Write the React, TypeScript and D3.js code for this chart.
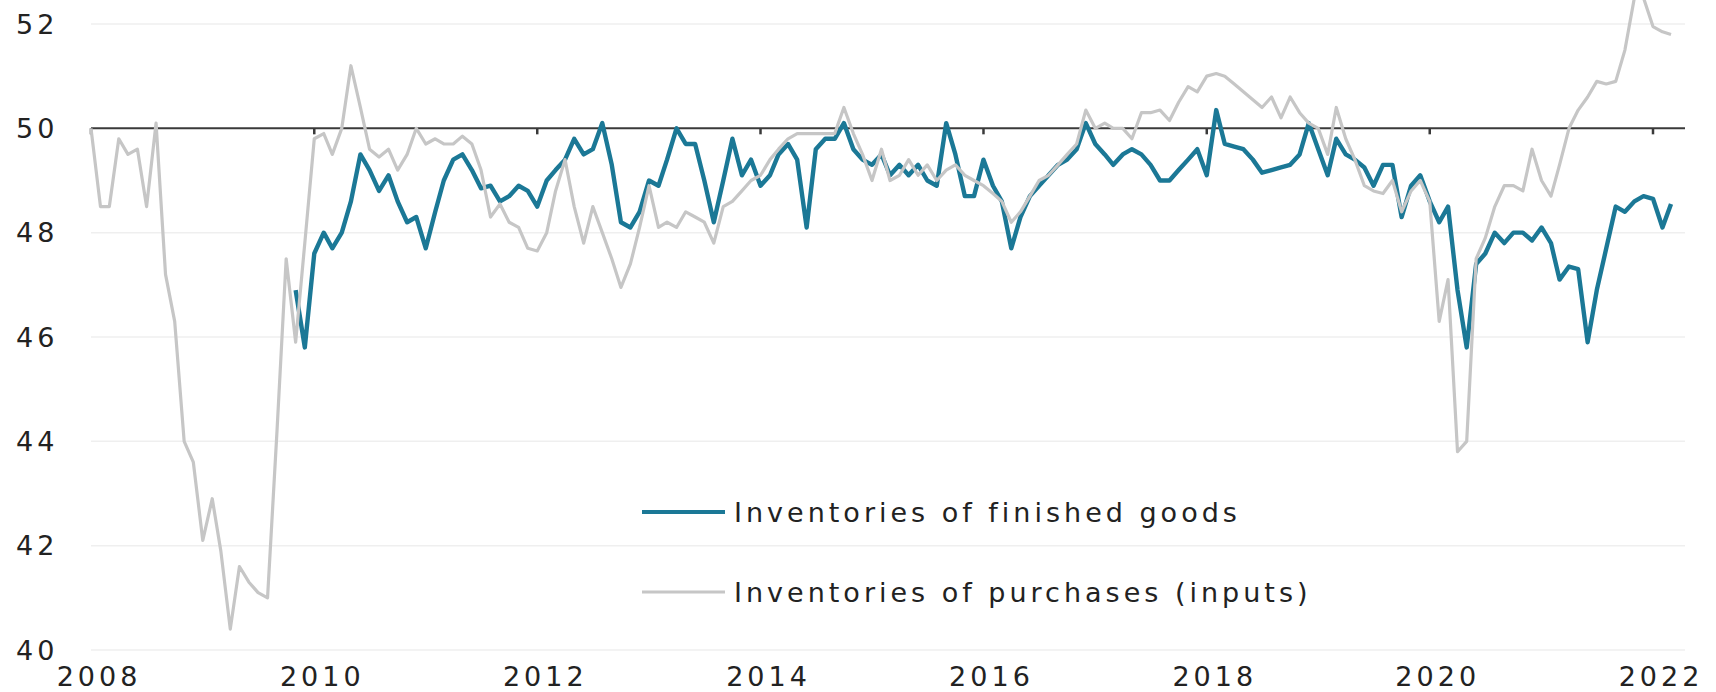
import React from "react";
import * as d3 from "d3";

// Monthly, Jan 2008 .. Mar 2022
const purchasesStart = new Date(2008, 0, 1);
const purchases: number[] = [
  50.0, 48.5, 48.5, 49.8, 49.5, 49.6, 48.5, 50.1, 47.2, 46.3, 44.0, 43.6,
  42.1, 42.9, 41.9, 40.4, 41.6, 41.3, 41.1, 41.0, 44.2, 47.5, 45.9, 47.8,
  49.8, 49.9, 49.5, 50.0, 51.2, 50.4, 49.6, 49.45, 49.6, 49.2, 49.5, 50.0,
  49.7, 49.8, 49.7, 49.7, 49.85, 49.7, 49.2, 48.3, 48.55, 48.2, 48.1, 47.7,
  47.65, 48.0, 48.8, 49.4, 48.5, 47.8, 48.5, 48.0, 47.5, 46.95, 47.4, 48.1,
  48.9, 48.1, 48.2, 48.1, 48.4, 48.3, 48.2, 47.8, 48.5, 48.6, 48.8, 49.0,
  49.1, 49.4, 49.6, 49.8, 49.9, 49.9, 49.9, 49.9, 49.9, 50.4, 49.9, 49.5,
  49.0, 49.6, 49.0, 49.1, 49.4, 49.1, 49.3, 49.0, 49.2, 49.3, 49.1, 49.0,
  48.9, 48.75, 48.6, 48.2, 48.4, 48.7, 49.0, 49.1, 49.3, 49.5, 49.7, 50.35,
  50.0, 50.1, 50.0, 50.0, 49.8, 50.3, 50.3, 50.35, 50.15, 50.5, 50.8, 50.7,
  51.0, 51.05, 51.0, 50.85, 50.7, 50.55, 50.4, 50.6, 50.2, 50.6, 50.3, 50.1,
  50.0, 49.5, 50.4, 49.8, 49.4, 48.9, 48.8, 48.75, 49.0, 48.4, 48.8, 49.0,
  48.6, 46.3, 47.1, 43.8, 44.0, 47.5, 47.9, 48.5, 48.9, 48.9, 48.8, 49.6,
  49.0, 48.7, 49.3, 50.0, 50.35, 50.6, 50.9, 50.85, 50.9, 51.5, 52.5, 52.5,
  51.95, 51.85, 51.8,
];

// Monthly, Nov 2009 .. Mar 2022
const finishedStart = new Date(2009, 10, 1);
const finished: number[] = [
  46.9, 45.8,
  47.6, 48.0, 47.7, 48.0, 48.6, 49.5, 49.2, 48.8, 49.1, 48.6, 48.2, 48.3,
  47.7, 48.4, 49.0, 49.4, 49.5, 49.2, 48.85, 48.9, 48.6, 48.7, 48.9, 48.8,
  48.5, 49.0, 49.2, 49.4, 49.8, 49.5, 49.6, 50.1, 49.3, 48.2, 48.1, 48.4,
  49.0, 48.9, 49.4, 50.0, 49.7, 49.7, 49.0, 48.2, 49.0, 49.8, 49.1, 49.4,
  48.9, 49.1, 49.5, 49.7, 49.4, 48.1, 49.6, 49.8, 49.8, 50.1, 49.6, 49.4,
  49.3, 49.5, 49.1, 49.3, 49.1, 49.3, 49.0, 48.9, 50.1, 49.5, 48.7, 48.7,
  49.4, 48.9, 48.6, 47.7, 48.3, 48.7, 48.9, 49.1, 49.3, 49.4, 49.6, 50.1,
  49.7, 49.5, 49.3, 49.5, 49.6, 49.5, 49.3, 49.0, 49.0, 49.2, 49.4, 49.6,
  49.1, 50.35, 49.7, 49.65, 49.6, 49.4, 49.15, 49.2, 49.25, 49.3, 49.5, 50.1,
  49.6, 49.1, 49.8, 49.5, 49.4, 49.25, 48.9, 49.3, 49.3, 48.3, 48.9, 49.1,
  48.6, 48.2, 48.5, 46.9, 45.8, 47.4, 47.6, 48.0, 47.8, 48.0, 48.0, 47.85,
  48.1, 47.8, 47.1, 47.35, 47.3, 45.9, 46.9, 47.7, 48.5, 48.4, 48.6, 48.7,
  48.65, 48.1, 48.55,
];

const yTicks = [40, 42, 44, 46, 48, 50, 52];
const xTickYears = [2008, 2010, 2012, 2014, 2016, 2018, 2020, 2022];
const seriesNames = ["Inventories of finished goods", "Inventories of purchases (inputs)"];

const W = 1716;
const H = 692;
const TEAL = "#1b7896";
const GREY = "#c6c6c6";
const FONT = "'DejaVu Sans', Arial, sans-serif";
const FS = 27;
const LS = 4;

function toPoints(start: Date, vals: number[]) {
  return vals.map((v, i) => ({ date: d3.timeMonth.offset(start, i), v }));
}

export default function App() {
  const x = d3
    .scaleTime()
    .domain([new Date(2008, 0, 1), new Date(2022, 0, 1)])
    .range([91, 1653]);
  const plotRight = 1685;
  const y = d3.scaleLinear().domain([40, 52]).range([650, 24]);

  const line = d3
    .line<{ date: Date; v: number }>()
    .x((d) => x(d.date))
    .y((d) => y(d.v))
    .curve(d3.curveLinear);

  const pPts = toPoints(purchasesStart, purchases);
  const fPts = toPoints(finishedStart, finished);

  const x0 = x.range()[0];
  const legendX = 642;
  const legendY = [512, 592];

  return (
    <svg
      width={W}
      height={H}
      style={{ position: "absolute", left: 0, top: 0, background: "#fff" }}
    >
      {/* gridlines */}
      {yTicks
        .filter((t) => t !== 50)
        .map((t) => (
          <line
            key={"g" + t}
            x1={x0}
            x2={plotRight}
            y1={y(t)}
            y2={y(t)}
            stroke="#efefef"
            strokeWidth={1.5}
          />
        ))}

      {/* y labels */}
      {yTicks.map((t) => (
        <text
          key={"yl" + t}
          x={16}
          y={y(t)}
          dy="0.36em"
          fontFamily={FONT}
          fontSize={FS}
          letterSpacing={LS}
          fill="#222"
        >
          {t}
        </text>
      ))}

      {/* x labels */}
      {xTickYears.map((yr) => (
        <text
          key={"xl" + yr}
          x={x(new Date(yr, 0, 1)) + 8}
          y={676}
          dy="0.36em"
          textAnchor="middle"
          fontFamily={FONT}
          fontSize={FS}
          letterSpacing={LS}
          fill="#222"
        >
          {yr}
        </text>
      ))}

      {/* 50 line with ticks */}
      <line x1={x0} x2={plotRight} y1={y(50)} y2={y(50)} stroke="#3a3a3a" strokeWidth={2} />
      {xTickYears.map((yr) => (
        <line
          key={"t" + yr}
          x1={x(new Date(yr, 0, 1))}
          x2={x(new Date(yr, 0, 1))}
          y1={y(50)}
          y2={y(50) + 6}
          stroke="#3a3a3a"
          strokeWidth={2.5}
        />
      ))}

      {/* series */}
      <path d={line(fPts) || ""} fill="none" stroke={TEAL} strokeWidth={4.4} strokeLinejoin="round" />
      <path d={line(pPts) || ""} fill="none" stroke={GREY} strokeWidth={3.2} strokeLinejoin="round" />

      {/* legend */}
      {seriesNames.map((name, i) => (
        <g key={name}>
          <line
            x1={legendX}
            x2={legendX + 83}
            y1={legendY[i]}
            y2={legendY[i]}
            stroke={i === 0 ? TEAL : GREY}
            strokeWidth={i === 0 ? 4 : 3.2}
          />
          <text
            x={legendX + 92}
            y={legendY[i]}
            dy="0.36em"
            fontFamily={FONT}
            fontSize={FS}
            letterSpacing={LS}
            fill="#222"
          >
            {name}
          </text>
        </g>
      ))}
    </svg>
  );
}
